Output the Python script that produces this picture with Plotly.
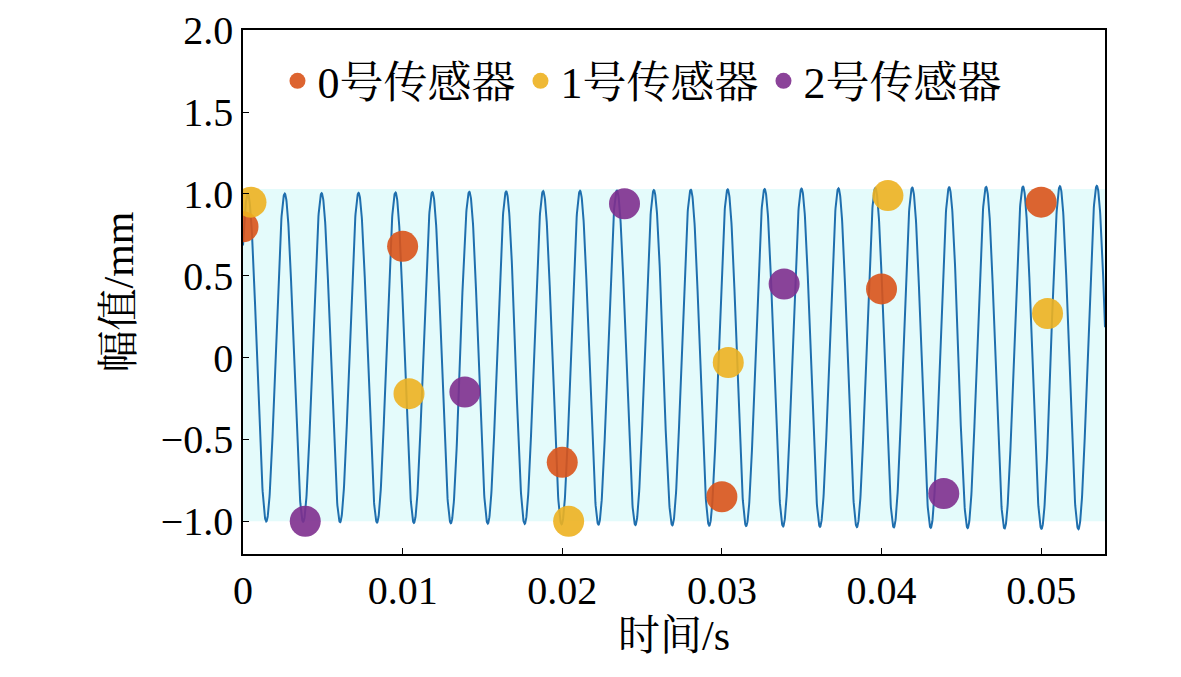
import numpy as np
import plotly.graph_objects as go

# signal parameters
freq = 1/0.0023125
t_peak = 0.0003
amp_start, amp_end = 1.0, 1.05
t = np.linspace(0, 0.054, 4000)
amp = amp_start + (amp_end - amp_start) * t / 0.054
y = amp * np.cos(2*np.pi*freq*(t - t_peak))

s0_t = [0.0, 0.01, 0.02, 0.03, 0.04, 0.05]
s0_y = [0.80, 0.68, -0.64, -0.85, 0.42, 0.95]
s1_t = [0.0005, 0.0104, 0.0204, 0.0304, 0.0404, 0.0504]
s1_y = [0.95, -0.22, -1.0, -0.03, 0.99, 0.27]
s2_t = [0.0039, 0.0139, 0.0239, 0.0339, 0.0439]
s2_y = [-1.0, -0.21, 0.94, 0.45, -0.83]
names = ["0号传感器", "1号传感器", "2号传感器"]
colors = ["#D95319", "#EDB120", "#7E2F8E"]

font = "Liberation Serif, Noto Serif CJK SC, Noto Sans CJK SC"
fig = go.Figure()
fig.add_shape(type="rect", x0=0, x1=0.054, y0=-1.0, y1=1.03, xref="x", yref="y",
              fillcolor="#e4fbfb", line_width=0, layer="below")
fig.add_trace(go.Scatter(x=t, y=y, mode="lines", line=dict(color="#1f6fae", width=2), showlegend=False))
for tt, yy, n, c in zip([s0_t, s1_t, s2_t], [s0_y, s1_y, s2_y], names, colors):
    fig.add_trace(go.Scatter(x=tt, y=yy, mode="markers", name=n,
                             marker=dict(color=c, size=31, opacity=0.9)))
axis = dict(showline=True, linecolor="black", linewidth=1.5, mirror=True, ticks="inside",
            ticklen=6, tickcolor="black", showgrid=False, zeroline=False, automargin=False,
            tickfont=dict(size=40, family=font, color="black"))
fig.update_layout(
    width=1181, height=677, plot_bgcolor="white", paper_bgcolor="white",
    margin=dict(l=235, r=84, t=22, b=131),
    font=dict(family=font, color="black"),
    xaxis=dict(range=[0, 0.054], tickvals=[0, 0.01, 0.02, 0.03, 0.04, 0.05],
               ticktext=["0", "0.01", "0.02", "0.03", "0.04", "0.05"],
               title=dict(text="时间/s", font=dict(size=42), standoff=4), **axis),
    yaxis=dict(range=[-1.2, 2.002], tickvals=[-1, -0.5, 0, 0.5, 1, 1.5, 2],
               ticktext=["−1.0", "−0.5", "0", "0.5", "1.0", "1.5", "2.0"],
               title=dict(text="幅值/mm", font=dict(size=42), standoff=14), **axis),
    legend=dict(orientation="h", x=0.04, y=0.97, xanchor="left", yanchor="top",
                font=dict(size=44), bgcolor="rgba(0,0,0,0)", itemwidth=30),
)
fig.write_html("out.html")
